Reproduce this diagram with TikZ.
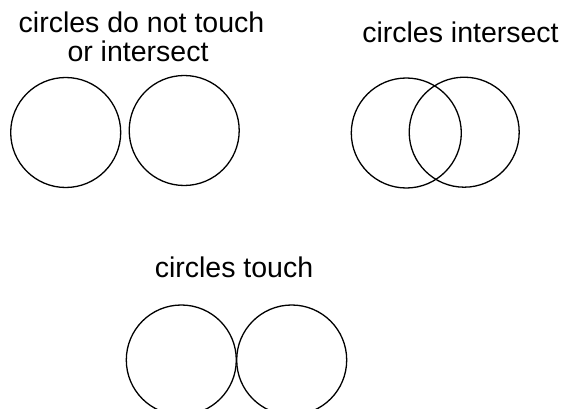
\documentclass[tikz,border=0pt]{standalone}
\usepackage{fontspec}
\setmainfont{Liberation Sans}
\begin{document}
\begin{tikzpicture}[x=1pt,y=-1pt,
  ring/.style={circle,draw,line width=1.3pt,minimum size=110pt,inner sep=0pt},
  label/.style={font=\fontsize{28.5}{29}\selectfont,inner sep=0pt,anchor=base,align=center}]
\useasboundingbox (0,0) rectangle (563,409);
\node[label] (t1) at (141.5,33) {circles do not touch};
\node[label] (t1b) at (138,62) {or intersect};
\node[label] (t2) at (460.5,43) {circles intersect};
\node[label] (t3) at (234,278) {circles touch};
\node[ring] (a) at (65.7,132.5) {};
\node[ring] (b) at (184.2,130.5) {};
\node[ring] (c) at (406.3,133) {};
\node[ring] (d) at (464.2,132.2) {};
\node[ring] (e) at (181.3,360) {};
\node[ring] (f) at (291.7,360) {};
\end{tikzpicture}
\end{document}
